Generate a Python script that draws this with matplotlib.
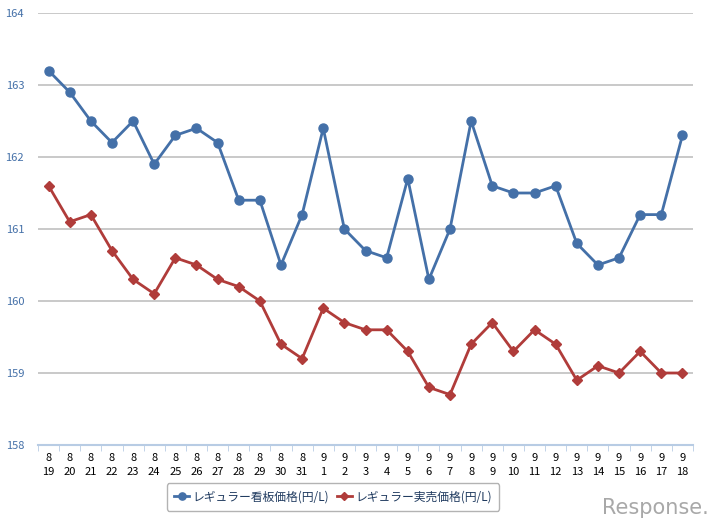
import numpy as np
import matplotlib
matplotlib.use("Agg")
import matplotlib.pyplot as plt

plt.rcParams["font.family"] = ["Noto Sans CJK JP", "DejaVu Sans"]

months = [8] * 13 + [9] * 18
days = list(range(19, 32)) + list(range(1, 19))
signboard = [163.2, 162.9, 162.5, 162.2, 162.5, 161.9, 162.3, 162.4, 162.2, 161.4,
             161.4, 160.5, 161.2, 162.4, 161.0, 160.7, 160.6, 161.7, 160.3, 161.0,
             162.5, 161.6, 161.5, 161.5, 161.6, 160.8, 160.5, 160.6, 161.2, 161.2,
             162.3]
actual = [161.6, 161.1, 161.2, 160.7, 160.3, 160.1, 160.6, 160.5, 160.3, 160.2,
          160.0, 159.4, 159.2, 159.9, 159.7, 159.6, 159.6, 159.3, 158.8, 158.7,
          159.4, 159.7, 159.3, 159.6, 159.4, 158.9, 159.1, 159.0, 159.3, 159.0,
          159.0]
labels = [f"{m}\n{d}" for m, d in zip(months, days)]

blue, red = "#4470a8", "#b03c3a"

fig = plt.figure(figsize=(7.26, 5.28), dpi=100)
ax = fig.add_axes([38 / 726, 1 - 445 / 528, 655 / 726, 432 / 528])
x = np.arange(len(labels))

ax.plot(x, signboard, color=blue, lw=2, marker="o", ms=6.5, label="レギュラー看板価格(円/L)")
ax.plot(x, actual, color=red, lw=2, marker="D", ms=4.8, label="レギュラー実売価格(円/L)")

ax.set_xlim(-0.5, len(labels) - 0.5)
ax.set_ylim(158, 164)
ax.set_yticks(range(158, 165))
ax.grid(axis="y", color="#c0c0c0", lw=1.2)
ax.set_axisbelow(True)

ax.set_xticks(x)
ax.set_xticklabels(labels, fontsize=8, linespacing=1.5)
ax.set_xticks(np.arange(-0.5, len(labels), 1), minor=True)
ax.tick_params(axis="x", which="major", length=0, pad=6)
ax.tick_params(axis="x", which="minor", length=4, color="#b8cce4", direction="out")
ax.tick_params(axis="y", length=0, labelsize=8, labelcolor=blue, pad=10)

for s in ["top", "right", "left"]:
    ax.spines[s].set_visible(False)
ax.spines["bottom"].set_color("#b8cce4")
ax.spines["bottom"].set_linewidth(1.5)

leg = fig.legend(loc="center", bbox_to_anchor=(333 / 726, 1 - 497 / 528), ncol=2,
                 fontsize=8.5, frameon=True, fancybox=True, edgecolor="#a0a0a0",
                 handlelength=1.3, columnspacing=0.6, handletextpad=0.3,
                 borderpad=0.6, markerscale=0.8)
for t in leg.get_texts():
    t.set_color("#1f3a5f")

fig.text(655 / 726, 1 - 508 / 528, "Response.", ha="center", va="center",
         fontsize=15, color="#a8a8a8", family="DejaVu Sans")

fig.savefig("out.png", dpi=100)
